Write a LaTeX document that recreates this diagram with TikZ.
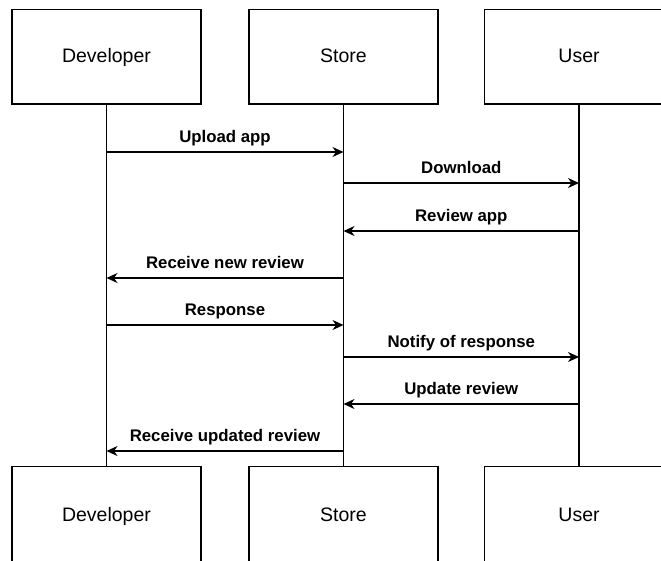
\documentclass[tikz,border=0pt]{standalone}
\usepackage{fontspec}
\setmainfont{Liberation Sans}
\usetikzlibrary{arrows.meta}
\begin{document}
\begin{tikzpicture}[x=1pt,y=-1pt,
  actor/.style={draw=black,line width=1.2pt,fill=white,minimum width=189pt,minimum height=94.5pt,inner sep=0pt,text height=14pt,text depth=2.9pt,font=\fontsize{19.5}{23}\selectfont},
  actorB/.style={actor,minimum height=98pt},
  life/.style={line width=1.3pt},
  msg/.style={line width=1.3pt,-{Stealth[length=11pt,width=10pt,inset=3.5pt]}},
  lbl/.style={font=\fontsize{16.8}{20}\selectfont\bfseries,anchor=base,inner sep=0pt}]
\useasboundingbox (0,0) rectangle (661,560);
\clip (0,0) rectangle (661,560);
% actors
\node[actor] (devT) at (106.5,56.75) {Developer};
\node[actor] (stoT) at (343.5,56.75) {Store};
\node[actor] (usrT) at (579,56.75) {User};
\node[actorB] (devB) at (106.5,515.5) {Developer};
\node[actorB] (stoB) at (343.5,515.5) {Store};
\node[actorB] (usrB) at (579,515.5) {User};
% lifelines
\draw[life] (devT.south) -- (devB.north);
\draw[life] (stoT.south) -- (stoB.north);
\draw[life] (usrT.south) -- (usrB.north);
% message end points
\coordinate (d1) at (106.5,152); \coordinate (s1) at (343.5,152);
\coordinate (s2) at (343.5,183); \coordinate (u2) at (579,183);
\coordinate (u3) at (579,231);   \coordinate (s3) at (343.5,231);
\coordinate (s4) at (343.5,278); \coordinate (d4) at (106.5,278);
\coordinate (d5) at (106.5,325); \coordinate (s5) at (343.5,325);
\coordinate (s6) at (343.5,357); \coordinate (u6) at (579,357);
\coordinate (u7) at (579,404);   \coordinate (s7) at (343.5,404);
\coordinate (s8) at (343.5,451); \coordinate (d8) at (106.5,451);
% messages
\draw[msg] (d1) -- node[lbl,yshift=10pt] (m1) {Upload app} (s1);
\draw[msg] (s2) -- node[lbl,yshift=10pt] (m2) {Download} (u2);
\draw[msg] (u3) -- node[lbl,yshift=10pt] (m3) {Review app} (s3);
\draw[msg] (s4) -- node[lbl,yshift=10pt] (m4) {Receive new review} (d4);
\draw[msg] (d5) -- node[lbl,yshift=10pt] (m5) {Response} (s5);
\draw[msg] (s6) -- node[lbl,yshift=10pt] (m6) {Notify of response} (u6);
\draw[msg] (u7) -- node[lbl,yshift=10pt] (m7) {Update review} (s7);
\draw[msg] (s8) -- node[lbl,yshift=10pt] (m8) {Receive updated review} (d8);
\end{tikzpicture}
\end{document}
